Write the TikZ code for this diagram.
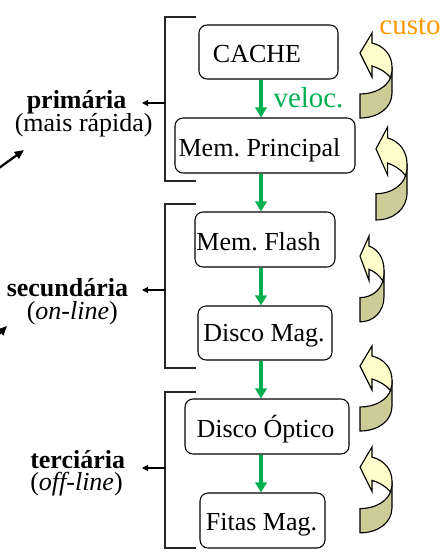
\documentclass[tikz,border=0pt]{standalone}
\usepackage{fontspec}
\setmainfont{Liberation Serif}
\usetikzlibrary{arrows.meta}
\frenchspacing
\definecolor{gr}{HTML}{00B050}
\definecolor{org}{HTML}{FF9900}
\definecolor{yel}{HTML}{FFFFCC}
\definecolor{tan2}{HTML}{CCCC99}
\newcommand{\tightlines}{\lineskiplimit -100pt\relax}
\tikzset{
 x=0.75pt,y=-0.75pt,
 memory/.style={draw=black,line width=0.8pt,rounded corners=6pt,inner sep=0pt},
 memtext/.style={font=\fontsize{19.5}{19.5}\selectfont,inner sep=0pt},
 flow/.style={draw=gr,line width=2.5pt,-{Triangle[length=7.5pt,width=8.5pt]}},
 side/.style={draw=black!85,line width=0.85pt,line cap=butt},
 lab/.style={-{Triangle[length=4.5pt,width=4.5pt]},draw=black,line width=0.8pt},
 stray/.style={-{Triangle[length=7pt,width=6pt]},draw=black,line width=1.7pt},
 level/.style={font=\fontsize{19.5}{16.9}\selectfont\tightlines,inner sep=0pt,align=left,anchor=west},
 turn/.style={draw=black,line width=0.85pt,line join=miter},
}
\newcommand{\turnarrow}[4]{%
 \begin{scope}[shift={(#1,#2)},xscale=#3,yscale=#4]
 \fill[tan2] (32,34) -- (32,60) .. controls (32,75) and (18,85) .. (0,85) -- (0,61) .. controls (15,61) and (27,54) .. (30.5,44.5) -- cycle;
 \draw[turn] (32,34) -- (32,60) .. controls (32,75) and (18,85) .. (0,85) -- (0,61) .. controls (15,61) and (27,54) .. (30.5,44.5);
 \draw[turn,fill=yel] (12,0) -- (12,10) .. controls (24,13) and (32,22) .. (32,34) -- (32,38) -- (30.5,44.5) .. controls (26,39) and (19,35) .. (12,33) -- (12,44) -- (0,20) -- cycle;
 \end{scope}}
\begin{document}
\begin{tikzpicture}
\useasboundingbox (0,0) rectangle (445,556);
\node[memory,minimum width=139*0.75pt,minimum height=54*0.75pt] (cache) at (268.5,52) {};
\node[memtext] at (257,54.5) {CACHE};
\node[memory,minimum width=180*0.75pt,minimum height=55*0.75pt] (memp) at (265,145.5) {};
\node[memtext] at (259.5,150) {Mem. Principal};
\node[memory,minimum width=140*0.75pt,minimum height=55*0.75pt] (flash) at (265,239.5) {};
\node[memtext] at (258.5,242) {Mem. Flash};
\node[memory,minimum width=134*0.75pt,minimum height=54*0.75pt] (mag) at (265,333) {};
\node[memtext] at (264,336) {Disco Mag.};
\node[memory,minimum width=164*0.75pt,minimum height=55*0.75pt] (opt) at (267,426.5) {};
\node[memtext] at (265.5,429.5) {Disco Óptico};
\node[memory,minimum width=125*0.75pt,minimum height=55*0.75pt] (fitas) at (262.5,520.5) {};
\node[memtext] at (261.5,525) {Fitas Mag.};
\coordinate (gx) at (261,0);
\foreach \a/\b in {cache/memp,memp/flash,flash/mag,mag/opt,opt/fitas}
 \draw[flow] (\a.south -| gx) -- (\b.north -| gx);
\node[font=\fontsize{21.7}{21.7}\selectfont,text=gr,inner sep=0pt] (veloc) at (308.5,98) {veloc.};
\node[font=\fontsize{21.7}{21.7}\selectfont,text=org,inner sep=0pt] (custo) at (410,26.5) {custo};
\draw[side] (196,17) -- (165,17) -- (165,181) -- (196,181);
\draw[side] (196,204) -- (165,204) -- (165,368) -- (196,368);
\draw[side] (196,392) -- (165,392) -- (165,548) -- (196,548);
\node[level] (t1) at (14.5,114) {\hspace*{9pt}\textbf{primária}\\(mais rápida)};
\node[level] (t2) at (6.5,301.5) {\textbf{secundária}\\\hspace*{15pt}(\textit{on-line})};
\node[level] (t3) at (30,473) {\textbf{terciária}\\(\textit{off-line})};
\coordinate (b1) at (165,103);
\coordinate (b2) at (165,290);
\coordinate (b3) at (165,468);
\coordinate (a1) at (142,103);
\coordinate (a2) at (142,290);
\coordinate (a3) at (142,468);
\draw[lab] (b1) -- (a1);
\draw[lab] (b2) -- (a2);
\draw[lab] (b3) -- (a3);
\coordinate (e1) at (-1,168);
\coordinate (e2) at (24,150);
\coordinate (e3) at (-1,334);
\coordinate (e4) at (7,326);
\draw[stray] (e1) -- (e2);
\draw[stray] (e3) -- (e4);
\turnarrow{360}{33}{1}{1}
\turnarrow{376}{127}{0.97}{1.094}
\turnarrow{360}{236}{0.75}{1.01}
\turnarrow{360}{346}{1}{1}
\turnarrow{360}{447}{1}{1.01}
\end{tikzpicture}
\end{document}
